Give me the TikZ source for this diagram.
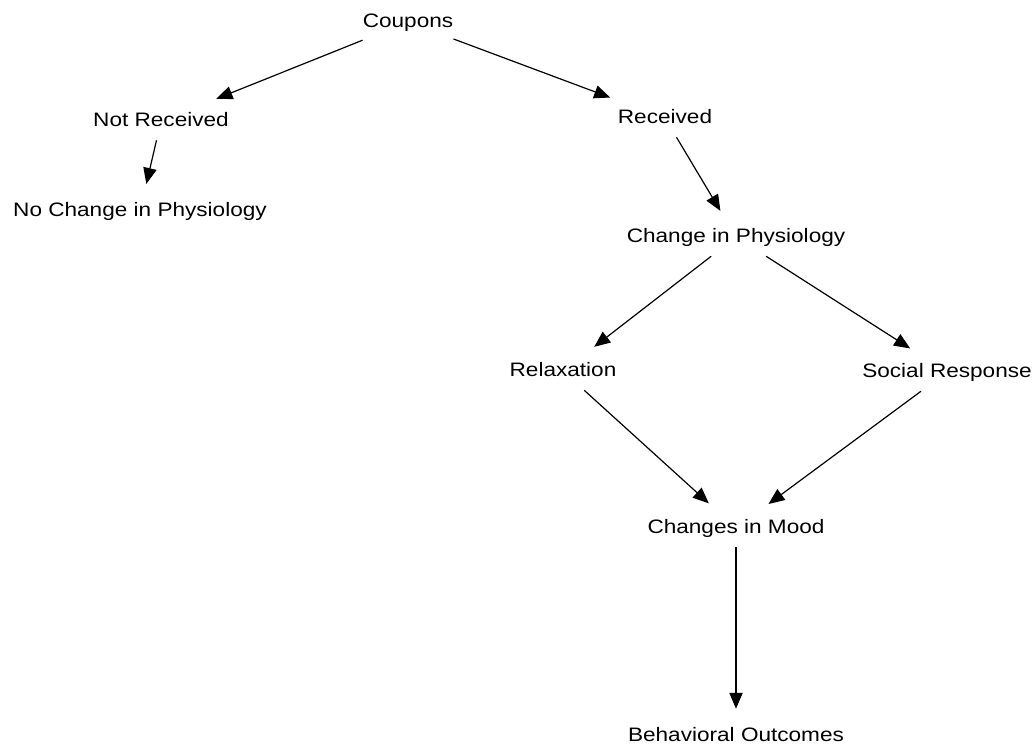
\documentclass[tikz,border=0pt]{standalone}
\usepackage{fontspec}
\setmainfont[FakeStretch=1.16]{Liberation Sans}
\usetikzlibrary{arrows.meta,positioning}
\tikzset{
  stage/.style = {shape=rectangle, anchor=base, align=center,
                  inner xsep=0pt, inner ysep=7.5pt,
                  text height=10.5pt, text depth=3pt,
                  font=\fontsize{14.6pt}{17pt}\selectfont},
  link/.style  = {line width=0.9pt, shorten >=6pt}
}

\begin{document}
\begin{tikzpicture}[x=0.75pt,y=-0.75pt,->,>={Triangle[length=12pt,width=10pt]}]
\useasboundingbox (0,0) rectangle (1034,744);
% outcome tree
\node [stage] (coupons)  at (408,27)  {Coupons};
\node [stage] (notrec)   at (161,126) {Not Received};
\node [stage] (rec)      at (665,123) {Received};
\node [stage] (nochange) at (140,216) {No Change in Physiology};
\node [stage] (change)   at (736,242) {Change in Physiology};
\node [stage] (relax)    at (563,376) {Relaxation};
\node [stage] (social)   at (947,377) {Social Response};
\node [stage] (mood)     at (736,533) {Changes in Mood};
\node [stage] (behav)    at (736,741) {Behavioral Outcomes};
\draw [link] (coupons) -- (notrec);
\draw [link] (coupons) -- (rec);
\draw [link] (notrec) -- (nochange);
\draw [link] (rec) -- (change);
\draw [link] (change) -- (relax);
\draw [link] (change) -- (social);
\draw [link] (relax) -- (mood);
\draw [link] (social) -- (mood);
\draw [link] (mood) -- (behav);
\end{tikzpicture}
\end{document}
